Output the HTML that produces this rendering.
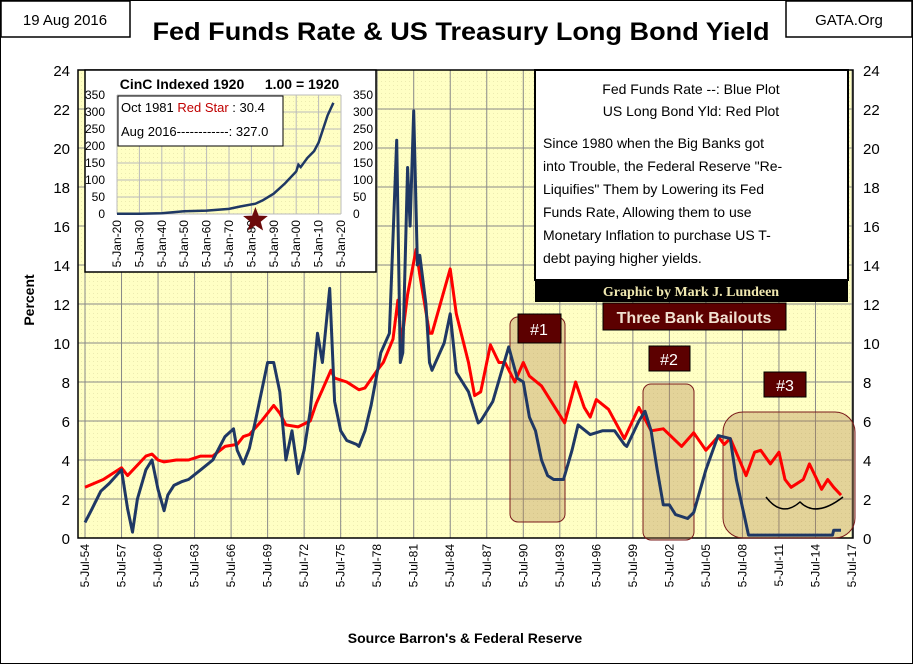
<!DOCTYPE html>
<html><head><meta charset="utf-8"><style>
body{margin:0;background:#fff;font-family:"Liberation Sans",sans-serif}
svg text{font-family:"Liberation Sans",sans-serif}
</style></head><body>
<svg id="c" width="913" height="664" xmlns="http://www.w3.org/2000/svg">
<defs>
<pattern id="dots" width="4" height="4" patternUnits="userSpaceOnUse"><rect width="4" height="4" fill="#ffffc4"/><rect x="1" y="1" width="1" height="1" fill="#ecebb0"/></pattern>
</defs>
<rect x="0" y="0" width="913" height="664" fill="#fff" stroke="#000" stroke-width="2"/>
<rect x="1" y="1" width="129" height="36" fill="#fff" stroke="#000" stroke-width="1.5"/>
<text x="65" y="25" font-size="15" text-anchor="middle">19 Aug 2016</text>
<rect x="786" y="1" width="126" height="36" fill="#fff" stroke="#000" stroke-width="1.5"/>
<text x="849" y="25" font-size="15" text-anchor="middle">GATA.Org</text>
<text x="461" y="40" font-size="25" font-weight="bold" text-anchor="middle" textLength="617" lengthAdjust="spacingAndGlyphs">Fed Funds Rate &amp; US Treasury Long Bond Yield</text>
<rect x="78" y="70" width="775" height="468" fill="url(#dots)"/>
<g id="grid"></g>
<g id="axes"></g>
<g id="boxes">
<rect x="510" y="317" width="55" height="205" rx="8" fill="#b0804a" fill-opacity="0.35" stroke="#7a1a1a"/>
<rect x="643" y="384" width="51" height="156" rx="8" fill="#b0804a" fill-opacity="0.35" stroke="#7a1a1a"/>
<rect x="723" y="412" width="132" height="126" rx="20" fill="#b0804a" fill-opacity="0.35" stroke="#7a1a1a"/>
</g>
<g id="series"></g>
<path d="M766 497 Q782 518 800 502 Q816 518 843 497" fill="none" stroke="#000" stroke-width="1.5"/>
<g>
<rect x="518" y="314" width="43" height="29" fill="#5c0000" stroke="#000"/>
<text x="539" y="335" font-size="16" fill="#fff" text-anchor="middle">#1</text>
<rect x="649" y="346" width="41" height="25" fill="#5c0000" stroke="#000"/>
<text x="669" y="365" font-size="16" fill="#fff" text-anchor="middle">#2</text>
<rect x="764" y="372" width="42" height="25" fill="#5c0000" stroke="#000"/>
<text x="785" y="391" font-size="16" fill="#fff" text-anchor="middle">#3</text>
<rect x="603" y="303" width="183" height="27" fill="#5c0000" stroke="#000"/>
<text x="694" y="323" font-size="16" font-weight="bold" fill="#f0e0d0" text-anchor="middle">Three Bank Bailouts</text>
</g>
<g>
<rect x="535" y="70" width="313" height="210" fill="#fff" stroke="#000" stroke-width="2"/>
<rect x="535" y="280" width="313" height="22" fill="#000"/>
<text x="691" y="296" font-size="14" font-weight="bold" fill="#f0e8b0" text-anchor="middle" style="font-family:'Liberation Serif',serif">Graphic by Mark J. Lundeen</text>
<text x="691" y="94" font-size="14" text-anchor="middle">Fed Funds Rate --:  Blue Plot</text>
<text x="691" y="116" font-size="14" text-anchor="middle">US Long Bond Yld:  Red Plot</text>
<g font-size="14">
<text x="543" y="148">Since 1980 when the Big Banks got</text>
<text x="543" y="171">into Trouble, the Federal Reserve "Re-</text>
<text x="543" y="194">Liquifies" Them by Lowering its Fed</text>
<text x="543" y="217">Funds Rate, Allowing them to use</text>
<text x="543" y="240">Monetary Inflation to purchase US T-</text>
<text x="543" y="263">debt paying higher  yields.</text>
</g>
</g>
<g id="inset">
<rect x="85" y="70" width="291" height="202" fill="#fff" stroke="#000" stroke-width="1.5"/>
<rect x="117" y="95" width="224" height="119" fill="url(#dots)"/>
<text x="182" y="89" font-size="14" font-weight="bold" text-anchor="middle">CinC Indexed 1920</text>
<text x="302" y="89" font-size="14" font-weight="bold" text-anchor="middle">1.00 = 1920</text>
</g>
<text x="465" y="643" font-size="14" font-weight="bold" text-anchor="middle">Source Barron's &amp; Federal Reserve</text>
<text x="0" y="0" font-size="14" font-weight="bold" text-anchor="middle" transform="translate(34,300) rotate(-90)">Percent</text>
</svg>
<script>
const yTicks=[0,2,4,6,8,10,12,14,16,18,20,22,24];
const xTickLabels=["5-Jul-54","5-Jul-57","5-Jul-60","5-Jul-63","5-Jul-66","5-Jul-69","5-Jul-72","5-Jul-75","5-Jul-78","5-Jul-81","5-Jul-84","5-Jul-87","5-Jul-90","5-Jul-93","5-Jul-96","5-Jul-99","5-Jul-02","5-Jul-05","5-Jul-08","5-Jul-11","5-Jul-14","5-Jul-17"];
const redYears=[1954.5,1956,1957.5,1958,1959.5,1960,1960.5,1961,1962,1963,1964,1965,1966,1967,1967.5,1968,1969,1970,1970.5,1971,1972,1973,1973.5,1974,1974.7,1975,1976,1977,1977.5,1978.5,1979,1979.8,1980.2,1980.5,1981,1981.7,1982,1982.8,1983,1984.5,1985,1986,1986.5,1987,1987.8,1988.5,1989,1989.8,1990.5,1991,1992,1993,1993.9,1994.8,1995.5,1996,1996.5,1997.5,1998.8,2000,2001,2002,2003.5,2004.5,2005.5,2006.5,2007,2007.5,2008.8,2009.5,2010,2010.8,2011.5,2012,2012.5,2013.5,2014,2015,2015.5,2016,2016.6];
const redValues=[2.6,3.0,3.6,3.2,4.2,4.3,4.0,3.9,4.0,4.0,4.2,4.2,4.7,4.8,5.2,5.3,6.0,6.8,6.4,5.8,5.7,6.0,6.9,7.6,8.6,8.2,8.0,7.6,7.7,8.6,9.0,10.2,12.2,10.0,12.5,14.8,13.5,10.5,10.5,13.8,11.5,9.0,7.3,7.5,9.9,9.0,9.0,8.0,9.0,8.3,7.8,6.8,5.9,8.0,6.7,6.2,7.1,6.6,5.1,6.7,5.5,5.6,4.7,5.4,4.5,5.2,4.8,5.1,3.2,4.4,4.5,3.8,4.4,3.0,2.6,3.0,3.8,2.5,3.0,2.6,2.2];
const blueYears=[1954.5,1955,1955.8,1956.5,1957.5,1958,1958.4,1958.8,1959.5,1960,1960.5,1961,1961.3,1961.8,1962.5,1963,1964,1965,1966,1966.7,1967,1967.5,1968,1968.5,1969.5,1970,1970.5,1971,1971.5,1972,1972.5,1973,1973.6,1974,1974.6,1975,1975.5,1976,1976.8,1977,1977.5,1978,1978.8,1979.5,1980.1,1980.4,1980.6,1981,1981.2,1981.5,1981.8,1982,1982.5,1982.8,1983,1984,1984.5,1985,1986,1986.8,1987,1988,1989.3,1990,1990.5,1991,1991.5,1992,1992.5,1993,1993.8,1994.5,1995,1996,1997,1998,1998.8,1999,2000,2000.5,2001,2001.5,2002,2002.5,2003,2004,2004.5,2005.5,2006.5,2007.5,2008,2008.7,2009,2015.9,2016,2016.6];
const blueValues=[0.8,1.4,2.4,2.8,3.5,1.5,0.3,2.0,3.5,4.0,2.5,1.4,2.2,2.7,2.9,3.0,3.5,4.0,5.2,5.6,4.5,3.8,4.6,6.0,9.0,9.0,7.5,4.0,5.5,3.3,4.5,6.5,10.5,9.0,12.8,7.0,5.5,5.0,4.8,4.7,5.5,6.8,9.5,10.5,20.4,9.0,9.5,19.0,16.0,21.9,14.0,14.5,12.0,9.0,8.6,10.0,11.5,8.5,7.5,5.9,6.0,7.0,9.8,8.2,8.0,6.2,5.5,4.0,3.2,3.0,3.0,4.5,5.8,5.3,5.5,5.5,4.8,4.7,6.0,6.5,5.5,3.5,1.7,1.7,1.2,1.0,1.3,3.5,5.25,5.1,3.0,1.0,0.15,0.15,0.4,0.4];
const insetYears=[1920,1930,1940,1950,1960,1970,1975,1981.8,1985,1990,1995,2000,2001,2002,2005,2008,2010,2012,2014,2016.6];
const insetValues=[1,1,2,8,10,15,22,30.4,40,60,90,125,145,138,165,185,210,250,290,327];
const insetYTicks=[0,50,100,150,200,250,300,350];
const insetXLabels=["5-Jan-20","5-Jan-30","5-Jan-40","5-Jan-50","5-Jan-60","5-Jan-70","5-Jan-80","5-Jan-90","5-Jan-00","5-Jan-10","5-Jan-20"];

const NS="http://www.w3.org/2000/svg";
const L=78,R=853,T=70,B=538;
const y=v=>B-(v/24)*(B-T);
const x=yr=>85+(yr-1954.5)*(767/63);
function mk(tag,attrs,parent){const e=document.createElementNS(NS,tag);for(const k in attrs)e.setAttribute(k,attrs[k]);parent.appendChild(e);return e;}
const grid=document.getElementById('grid'),axes=document.getElementById('axes'),series=document.getElementById('series');
yTicks.forEach(v=>{
  const ln=mk('line',{x1:L,x2:R,y1:y(v),y2:y(v),stroke:'#888','stroke-width':1},grid);
  
  
  const tl=mk('text',{x:L-8,y:y(v)+6,'font-size':15,'text-anchor':'end'},axes);tl.textContent=v;
  
  
  const tr=mk('text',{x:R+10,y:y(v)+6,'font-size':15},axes);tr.textContent=v;
  
  
});
xTickLabels.forEach((lab,i)=>{
  const px=x(1954.5+3*i);
  const ln=mk('line',{x1:px,x2:px,y1:T,y2:B,stroke:'#888','stroke-width':1},grid);
  
  
  const t=mk('text',{x:0,y:0,'font-size':12,'text-anchor':'end',transform:`translate(${px+4},${B+6}) rotate(-90)`},axes);t.textContent=lab;
  
  
});
mk('rect',{x:L,y:T,width:R-L,height:B-T,fill:'none',stroke:'#000','stroke-width':1.5},axes);
function line(xs,vs,col,name){
  const d=xs.map((yr,i)=>(i?'L':'M')+x(yr).toFixed(1)+' '+y(vs[i]).toFixed(1)).join(' ');
  const p=mk('path',{d,fill:'none',stroke:col,'stroke-width':3,'stroke-linejoin':'round'},series);
  
  
}
line(redYears,redValues,'#ff0000','long-bond-yield-line');
line(blueYears,blueValues,'#1f3864','fed-funds-line');
// inset
const inset=document.getElementById('inset');
const iL=117,iR=341,iT=95,iB=214;
const ix=yr=>iL+(yr-1920)/100*(iR-iL);
const iy=v=>iB-v/350*(iB-iT);
insetYTicks.forEach(v=>{
  const g=mk('line',{x1:iL,x2:iR,y1:iy(v),y2:iy(v),stroke:'#bbb'},inset);
  
  
  const a=mk('text',{x:iL-12,y:iy(v)+4,'font-size':12,'text-anchor':'end'},inset);a.textContent=v;
  
  
  const b=mk('text',{x:iR+12,y:iy(v)+4,'font-size':12},inset);b.textContent=v;
  
  
});
insetXLabels.forEach((lab,i)=>{
  const px=ix(1920+10*i);
  const g=mk('line',{x1:px,x2:px,y1:iT,y2:iB,stroke:'#bbb'},inset);
  
  
  const t=mk('text',{x:0,y:0,'font-size':12,'text-anchor':'end',transform:`translate(${px+4},${iB+6}) rotate(-90)`},inset);t.textContent=lab;
  
  
});
const ib=mk('rect',{x:118,y:96,width:165,height:50,fill:'#fff',stroke:'#000','stroke-width':1},inset);


const t1=mk('text',{x:121,y:112,'font-size':13},inset);
t1.innerHTML='Oct 1981 <tspan fill="#c00000">Red Star</tspan> :  30.4';


const t2=mk('text',{x:121,y:136,'font-size':13},inset);t2.textContent='Aug 2016------------: 327.0';


const ip=mk('path',{d:insetYears.map((yr,i)=>(i?'L':'M')+ix(yr).toFixed(1)+' '+iy(insetValues[i]).toFixed(1)).join(' '),fill:'none',stroke:'#1f3864','stroke-width':2.5},inset);


const sx=ix(1981.8),sy=iB+6,r1=13,r2=5.5;let pts=[];
for(let k=0;k<10;k++){const a=-Math.PI/2+k*Math.PI/5,r=k%2?r2:r1;pts.push((sx+r*Math.cos(a)).toFixed(1)+','+(sy+r*Math.sin(a)).toFixed(1));}
const st=mk('polygon',{points:pts.join(' '),fill:'#6b0a0a'},inset);


</script>
</body></html>
